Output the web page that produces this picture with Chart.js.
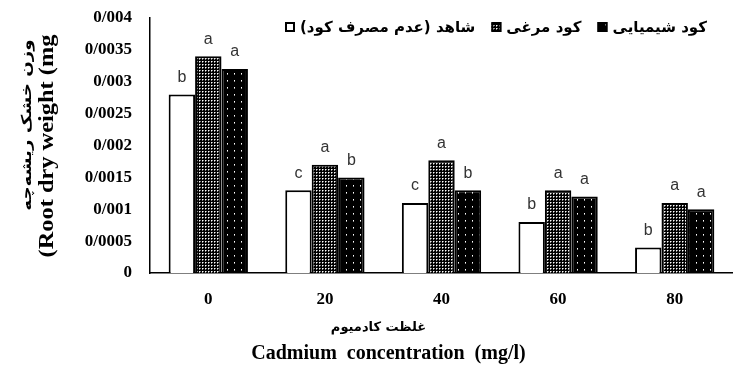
<!DOCTYPE html>
<html>
<head>
<meta charset="utf-8">
<script src="https://cdn.jsdelivr.net/npm/chart.js@4/dist/chart.umd.min.js"></script>
<style>
  body { margin: 0; background: #fff; }
  canvas { display: block; }
</style>
</head>
<body>
<canvas id="rootChart" width="733" height="387"></canvas>
<script>
// --- data
const categories = ['0', '20', '40', '60', '80'];
const controlValues = [0.0028, 0.0013, 0.0011, 0.0008, 0.0004];
const poultryValues = [0.0034, 0.0017, 0.00177, 0.0013, 0.0011];
const chemicalValues = [0.0032, 0.0015, 0.0013, 0.0012, 0.0010];
const controlLetters = ['b', 'c', 'c', 'b', 'b'];
const poultryLetters = ['a', 'a', 'a', 'a', 'a'];
const chemicalLetters = ['a', 'b', 'b', 'a', 'a'];
const seriesNames = ['شاهد (عدم مصرف کود)', 'کود مرغی', 'کود شیمیایی'];
const yTickLabels = ['0', '0/0005', '0/001', '0/0015', '0/002', '0/0025', '0/003', '0/0035', '0/004'];
const yTitleFa = 'وزن خشک ریشه‌چه';
const yTitleEn = '(Root dry weight (mg';
const xTitleFa = 'غلظت کادمیوم';
const xTitleEn = 'Cadmium  concentration  (mg/l)';

const serif = '"Liberation Serif", "Times New Roman", serif';
const arabic = '"DejaVu Sans", sans-serif';

// small tiled fills like the printed hatches
function makePattern(size, dots) {
    const c = document.createElement('canvas');
    c.width = size;
    c.height = size;
    const g = c.getContext('2d');
    g.fillStyle = '#000';
    g.fillRect(0, 0, size, size);
    dots.forEach(function (d) {
        g.fillStyle = d[2];
        g.fillRect(d[0], d[1], 1, 1);
    });
    return g.createPattern(c, 'repeat');
}
const poultryFill = makePattern(3, [[1, 1, '#fff'], [2, 1, '#888'], [1, 2, '#888']]);
const chemicalFill = makePattern(7, [[3, 3, '#fff'], [3, 4, '#999']]);

const letters = [controlLetters, poultryLetters, chemicalLetters];

// letters above bars, custom legend, titles
const extrasPlugin = {
    id: 'extras',
    afterDatasetsDraw: function (chart) {
        const ctx = chart.ctx;
        ctx.save();
        ctx.fillStyle = '#333';
        ctx.font = '16px "Liberation Sans", Arial, sans-serif';
        ctx.textAlign = 'center';
        ctx.textBaseline = 'bottom';
        chart.data.datasets.forEach(function (ds, i) {
            chart.getDatasetMeta(i).data.forEach(function (bar, j) {
                ctx.fillText(letters[i][j], bar.x, bar.y - 9);
            });
        });
        ctx.restore();
    },
    afterDraw: function (chart) {
        const ctx = chart.ctx;
        const area = chart.chartArea;
        ctx.save();

        // legend (box on the left of each name)
        ctx.font = 'bold 15px ' + arabic;
        ctx.textBaseline = 'middle';
        const box = 10, gapText = 5, gapItem = 16;
        let total = 0;
        chart.data.datasets.forEach(function (ds, i) {
            total += box + gapText + ctx.measureText(ds.label).width + (i ? gapItem : 0);
        });
        let x = 707 - total;
        const ly = 27;
        chart.data.datasets.forEach(function (ds) {
            ctx.fillStyle = ds.backgroundColor;
            ctx.fillRect(x, ly - box / 2, box, box);
            ctx.lineWidth = 2;
            ctx.strokeStyle = '#000';
            ctx.strokeRect(x + 1, ly - box / 2 + 1, box - 2, box - 2);
            ctx.fillStyle = '#000';
            ctx.direction = 'rtl';
            ctx.textAlign = 'left';
            const w = ctx.measureText(ds.label).width;
            ctx.fillText(ds.label, x + box + gapText, ly + 1);
            x += box + gapText + w + gapItem;
        });

        // x title, two lines
        const cx = chart.width / 2 + 22;
        ctx.direction = 'rtl';
        ctx.textAlign = 'center';
        ctx.font = 'bold 13px ' + arabic;
        ctx.fillText(xTitleFa, cx - 10, area.bottom + 55);
        ctx.direction = 'ltr';
        ctx.font = 'bold 20px ' + serif;
        ctx.fillText(xTitleEn, cx, area.bottom + 81);

        // y title, rotated and drawn a little stretched like the print
        ctx.save();
        ctx.translate(27, 125);
        ctx.rotate(-Math.PI / 2);
        ctx.scale(1.3, 1);
        ctx.direction = 'rtl';
        ctx.font = 'bold 14px ' + arabic;
        ctx.fillText(yTitleFa, 0, 0);
        ctx.restore();
        ctx.save();
        ctx.translate(48, 146);
        ctx.rotate(-Math.PI / 2);
        ctx.scale(1.22, 1);
        ctx.direction = 'ltr';
        ctx.font = 'bold 20px ' + serif;
        ctx.fillText(yTitleEn, 0, 0);
        ctx.restore();

        ctx.restore();
    }
};

new Chart(document.getElementById('rootChart'), {
    type: 'bar',
    data: {
        labels: categories,
        datasets: [{
            label: seriesNames[0],
            data: controlValues,
            backgroundColor: '#fff',
            borderColor: '#000',
            borderWidth: 2
        },
        {
            label: seriesNames[1],
            data: poultryValues,
            backgroundColor: poultryFill,
            borderColor: '#000',
            borderWidth: 2
        },
        {
            label: seriesNames[2],
            data: chemicalValues,
            backgroundColor: chemicalFill,
            borderColor: '#000',
            borderWidth: 2
        }]
    },
    options: {
        responsive: false,
        animation: false,
        devicePixelRatio: 1,
        categoryPercentage: 0.68,
        barPercentage: 1.0,
        layout: { padding: { top: 18, right: -4, left: 0, bottom: 0 } },
        plugins: {
            legend: { display: false },
            tooltip: { enabled: false }
        },
        scales: {
            x: {
                grid: { display: false, drawTicks: false },
                border: { display: true, color: '#000', width: 1.5 },
                ticks: {
                    color: '#000',
                    padding: 16,
                    font: { family: serif, size: 17, weight: 'bold' }
                },
                afterFit: function (scale) { scale.height = 114; }
            },
            y: {
                min: 0,
                max: 0.004,
                grid: { display: false, drawTicks: false },
                border: { display: true, color: '#000', width: 1.5 },
                ticks: {
                    stepSize: 0.0005,
                    color: '#000',
                    padding: 18,
                    font: { family: serif, size: 17, weight: 'bold' },
                    callback: function (value, index) { return yTickLabels[index]; }
                },
                afterFit: function (scale) {
                    scale.width = 150;
                    scale.paddingTop = 0;
                    scale.paddingBottom = 0;
                }
            }
        }
    },
    plugins: [extrasPlugin]
});
</script>
</body>
</html>
